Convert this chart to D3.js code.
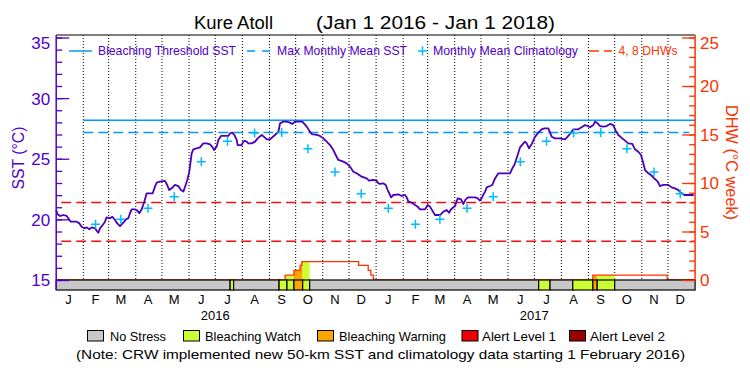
<!DOCTYPE html>
<html><head><meta charset="utf-8">
<script src="https://cdn.jsdelivr.net/npm/d3@7"></script>
<style>
body{margin:0;background:#fff}
text{font-family:"Liberation Sans",Arial,sans-serif}
</style>
</head><body>
<svg id="c" width="750" height="375"></svg>
<script>
// ---------------- data ----------------
const titleSite = "Kure Atoll";
const titlePeriod = "(Jan 1 2016 - Jan 1 2018)";
const startDate = Date.UTC(2016, 0, 1);
const endDate = Date.UTC(2018, 0, 1);
const monthLabels = ["J","F","M","A","M","J","J","A","S","O","N","D"];
const yearLabels = [2016, 2017];
const sstTicks = [15, 20, 25, 30, 35];
const dhwTicks = [0, 5, 10, 15, 20, 25];
const bleachingThreshold = 28.17;
const maxMonthlyMean = 27.17;
const dhwLevels = [4, 8];
// monthly mean climatology, Jan..Dec
const climValues = [20.91, 19.59, 20.01, 20.91, 21.87, 24.76, 26.44, 27.12, 27.17, 25.83, 23.91, 22.12];
// SST (days since 1 Jan 2016, degC)
const sstDays = [0,1.3,4.3,8.2,12,13.9,16.6,23.4,26.5,29.1,32.2,34.9,37.9,40.6,44.4,46.3,48.2,50.1,53.2,55.8,57.7,61.6,64.2,67.3,69.9,73,76,79.9,82.5,84.4,86.3,90.2,92.8,95.1,97.8,100.8,103.5,110.4,113,115,118.8,124.5,126.4,129.4,132.1,135.9,139.7,142.8,145.5,148.1,150,152.3,155,156.9,160.7,164.5,168.3,172.2,176,179,180.6,183.6,
185.5,188.6,196.9,198.9,201.5,203.8,206.5,207.6,212.2,214.1,216,217.9,219.8,223.7,227.5,230.5,235.1,238.9,240.8,244.6,247.3,250.3,254.2,256.1,259.9,263.7,267.5,270.2,273.2,281.6,283.9,286.6,290.4,292.3,298,301.8,305.7,309.5,313.3,317.1,319.8,322.8,328.5,332.4,336.2,340,343.8,349.5,355.2,357.9,362.9,366.7,368.6,370.5,
374.3,377,379.3,382,383.1,385.8,391.5,395.3,399.1,401,403,406.8,410.6,413.6,416.3,422,425.1,427.7,430.4,433.4,439.2,443,446.8,449.5,451.8,456.3,459.4,463.2,465.9,468.5,471.6,479.2,482.3,484.9,487.6,490.7,492.6,496.4,499,502.1,505.9,519.3,521.9,524.2,528,530.7,534.5,536.4,538.3,541,544.1,
547.8,
551.6,555.4,558.5,563.1,566.9,570.7,576.4,582.1,585.2,587.8,591.7,597.4,601.2,605,608.1,610.7,614.5,616.5,619.5,622.2,626,629.8,633.6,637.4,640.1,643.2,647.7,654.6,659.2,662.2,666,669.1,671.8,673.7,676.7,680.5,684.3,688.2,690.8,694.6,700.4,704.2,708,711.8,715.6,718.7,729.5];
const sstValues = [20.77,20.44,20.28,20.36,20.28,20.09,19.81,19.81,19.67,19.40,19.26,19.34,19.18,19.34,19.26,19.07,18.90,19.26,19.54,19.81,20.17,20.09,20.22,19.95,19.67,19.45,19.67,20.00,20.09,20.50,20.83,20.83,20.72,20.50,20.83,21.46,22.15,22.15,22.70,23.03,23.11,23.17,22.92,22.42,22.56,22.84,22.75,22.42,22.29,22.84,23.25,23.93,25.45,25.78,25.86,25.94,26.27,26.27,26.19,25.94,25.72,26.00,
26.55,26.88,26.88,27.10,27.15,26.96,26.55,26.13,26.13,26.41,26.49,26.41,26.27,26.27,26.41,26.68,26.96,26.74,26.60,26.60,26.77,26.96,27.23,27.92,28.06,28.06,27.98,27.87,28.06,28.06,27.87,27.65,27.23,27.04,26.96,26.88,26.68,26.41,26.13,25.72,25.31,24.90,24.76,24.62,24.35,23.93,23.80,23.52,23.38,23.19,23.25,23.19,22.97,22.92,
22.97,22.84,22.42,22.01,21.82,22.01,22.07,21.93,22.01,21.82,21.46,21.38,21.19,21.05,20.83,20.83,21.19,21.05,20.72,20.36,20.36,20.64,20.77,20.55,20.83,21.10,21.74,21.65,21.27,21.65,21.82,21.82,21.74,21.54,21.87,22.29,22.64,22.75,22.84,23.38,23.80,23.80,24.21,24.48,25.31,25.94,26.27,26.41,26.27,25.86,26.22,
26.80,
27.15,27.43,27.51,27.51,26.82,26.68,26.68,26.60,26.82,27.04,27.43,27.43,27.59,27.78,27.70,27.59,27.78,28.06,27.92,27.70,27.65,27.70,27.87,27.78,27.32,26.96,26.68,26.27,26.22,25.78,25.58,25.31,24.62,24.07,23.85,23.66,23.38,23.11,22.75,22.84,22.84,22.64,22.56,22.42,22.15,22.01,22.01];
// Degree heating weeks (step values, starting on given day)
const dhwDays   = [0, 262, 272, 279, 281, 346, 357, 360, 363, 614, 699, 731];
const dhwValues = [0, 0.5, 1.0, 1.5, 1.9, 1.5, 1.0, 0.5, 0,   0.5, 0,   0];
// Bleaching alert status segments (start day, level)
const statusStarts = [0, 199, 203, 255, 264, 272, 282, 290, 552, 565, 591, 614, 619, 639];
const statusLevels = [0, 1,   0,   1,   1,   2,   1,   0,   1,   0,   1,   2,   1,   0];
const statusEndDay = 731;
const statusNames = ["No Stress","Bleaching Watch","Bleaching Warning","Alert Level 1","Alert Level 2"];
const statusColors = ["#c8c8c8","#ccff33","#faa500","#ee0000","#990000"];
const noteText = "(Note: CRW implemented new 50-km SST and climatology data starting 1 February 2016)";

// ---------------- drawing ----------------
const purple = "#5000c8", lineCol = "#4a00b8", orange = "#ff3300", blue = "#0099ff", cyan = "#00bbff", red = "#ee1111";
const svg = d3.select("#c");
const dayToDate = d => new Date(startDate + d * 864e5);
const x = d3.scaleUtc().domain([startDate, endDate]).range([56.2, 695.1]);
const y = d3.scaleLinear().domain([15, 35]).range([280, 37.5]);
const yR = d3.scaleLinear().domain([0, 25]).range([280, 37.5]);
const L = x.range()[0], R = x.range()[1], T = 35, B = 280;

// month dotted lines
const monthStarts = d3.utcMonth.range(Date.UTC(2016,1,1), endDate);
svg.append("g").selectAll("line").data(monthStarts).join("line")
  .attr("x1", d => x(d)).attr("x2", d => x(d)).attr("y1", T).attr("y2", B)
  .attr("stroke", "#000").attr("stroke-width", 1).attr("stroke-dasharray", "1,2");

// threshold lines
const feb1 = Date.UTC(2016,1,1);
svg.append("line").attr("x1", x(feb1)).attr("x2", R).attr("y1", y(bleachingThreshold)).attr("y2", y(bleachingThreshold))
  .attr("stroke", blue).attr("stroke-width", 1.5);
svg.append("line").attr("x1", x(feb1)).attr("x2", R - 6).attr("y1", y(maxMonthlyMean)).attr("y2", y(maxMonthlyMean))
  .attr("stroke", blue).attr("stroke-width", 1.5).attr("stroke-dasharray", "10,5");
// DHW 4, 8 lines
svg.append("g").selectAll("line").data(dhwLevels).join("line")
  .attr("x1", L + 5).attr("x2", R).attr("y1", d => yR(d)).attr("y2", d => yR(d))
  .attr("stroke", red).attr("stroke-width", 1.5).attr("stroke-dasharray", "10,5");

// DHW fill by status
const dhwPts = dhwDays.map((d, i) => ({ d, v: dhwValues[i] }));
const segs = statusStarts.map((s, i) => ({ s, e: i < statusStarts.length - 1 ? statusStarts[i+1] : statusEndDay, lvl: statusLevels[i] }));
const area = d3.area().x(p => x(dayToDate(p.d))).y0(B).y1(p => yR(p.v)).curve(d3.curveStepAfter);
const defs = svg.append("defs");
segs.filter(s => s.lvl > 0).forEach((s, i) => {
  const id = "clip" + i;
  defs.append("clipPath").attr("id", id).append("rect")
    .attr("x", x(dayToDate(s.s))).attr("width", x(dayToDate(s.e)) - x(dayToDate(s.s))).attr("y", T).attr("height", B - T);
  svg.append("path").attr("d", area(dhwPts)).attr("fill", statusColors[s.lvl]).attr("clip-path", `url(#${id})`);
});
// DHW line
svg.append("path").attr("d", d3.line().x(p => x(dayToDate(p.d))).y(p => yR(p.v)).curve(d3.curveStepAfter)(dhwPts))
  .attr("fill", "none").attr("stroke", orange).attr("stroke-width", 1.3);

// SST line
const sstPts = sstDays.map((d, i) => ({ d, v: sstValues[i] }));
svg.append("path").attr("d", d3.line().x(p => x(dayToDate(p.d))).y(p => y(p.v))(sstPts))
  .attr("fill", "none").attr("stroke", lineCol).attr("stroke-width", 1.8).attr("stroke-linejoin", "round");

// climatology crosses
const climPts = d3.utcMonth.range(feb1, endDate).map(m => ({ t: Date.UTC(m.getUTCFullYear(), m.getUTCMonth(), 15), v: climValues[m.getUTCMonth()] }));
svg.append("g").selectAll("path").data(climPts).join("path")
  .attr("transform", p => `translate(${x(p.t)},${y(p.v)})`)
  .attr("d", "M-4.5,0H4.5M0,-4.5V4.5").attr("stroke", cyan).attr("stroke-width", 1.5).attr("fill", "none");

// status bar
svg.append("g").selectAll("rect").data(segs).join("rect")
  .attr("x", s => x(dayToDate(s.s))).attr("width", s => x(dayToDate(s.e)) - x(dayToDate(s.s)))
  .attr("y", B).attr("height", 10).attr("fill", s => statusColors[s.lvl])
  .attr("stroke", "#000").attr("stroke-width", 1.2);

// top border
svg.append("line").attr("x1", L).attr("x2", R).attr("y1", T).attr("y2", T).attr("stroke", "#000").attr("stroke-width", 1.2);

// left axis
const gl = svg.append("g").attr("transform", `translate(${L},0)`);
gl.call(d3.axisLeft(y).tickValues(d3.range(15, 36)).tickSize(-6).tickFormat(""));
gl.call(g => g.selectAll(".domain").remove());
const glm = svg.append("g").attr("transform", `translate(${L},0)`)
  .call(d3.axisLeft(y).tickValues(sstTicks).tickSize(-13).tickPadding(6));
glm.select(".domain").remove();
[gl, glm].forEach(g => { g.selectAll("line").attr("stroke", purple).attr("stroke-width", 1.3); });
glm.selectAll("text").attr("fill", purple).attr("font-size", 17).attr("font-family", "Liberation Sans, Arial, sans-serif")
  .attr("dy", d => d === 35 ? "0.62em" : "0.35em");
svg.append("line").attr("x1", L).attr("x2", L).attr("y1", T).attr("y2", 290).attr("stroke", purple).attr("stroke-width", 1.5);

// right axis
const gr = svg.append("g").attr("transform", `translate(${R},0)`);
gr.call(d3.axisRight(yR).tickValues(d3.range(0, 26)).tickSize(-6).tickFormat(""));
gr.select(".domain").remove();
const grm = svg.append("g").attr("transform", `translate(${R},0)`)
  .call(d3.axisRight(yR).tickValues(dhwTicks).tickSize(-13).tickPadding(5));
grm.select(".domain").remove();
[gr, grm].forEach(g => { g.selectAll("line").attr("stroke", orange).attr("stroke-width", 1.3); });
grm.selectAll("text").attr("fill", orange).attr("font-size", 17).attr("font-family", "Liberation Sans, Arial, sans-serif")
  .attr("dy", d => d === 25 ? "0.62em" : "0.35em");
svg.append("line").attr("x1", R).attr("x2", R).attr("y1", T).attr("y2", B).attr("stroke", orange).attr("stroke-width", 1.5);

// axis titles
svg.append("text").attr("transform", "translate(24,158) rotate(-90)").attr("text-anchor", "middle")
  .attr("fill", purple).attr("font-size", 16).attr("textLength", 63).attr("lengthAdjust", "spacingAndGlyphs").text("SST (°C)");
svg.append("text").attr("transform", "translate(726,162.5) rotate(90)").attr("text-anchor", "middle")
  .attr("fill", orange).attr("font-size", 16).attr("textLength", 115).attr("lengthAdjust", "spacingAndGlyphs").text("DHW (°C week)");

// month + year labels
const months = d3.utcMonth.range(startDate, endDate);
svg.append("g").selectAll("text").data(months).join("text")
  .attr("x", m => x(Date.UTC(m.getUTCFullYear(), m.getUTCMonth(), 15))).attr("y", 304)
  .attr("text-anchor", "middle").attr("font-size", 13).attr("fill", "#000")
  .text(m => monthLabels[m.getUTCMonth()]);
svg.append("g").selectAll("text").data(yearLabels).join("text")
  .attr("x", yr => x(Date.UTC(yr, 6, 1))).attr("y", 319.5)
  .attr("text-anchor", "middle").attr("font-size", 13).attr("fill", "#000").text(yr => yr);

// title
svg.append("text").attr("x", 194).attr("y", 29.3).attr("font-size", 17.5).attr("fill", "#000")
  .attr("textLength", 79).attr("lengthAdjust", "spacingAndGlyphs").text(titleSite);
svg.append("text").attr("x", 316).attr("y", 29.3).attr("font-size", 17.5).attr("fill", "#000")
  .attr("textLength", 239).attr("lengthAdjust", "spacingAndGlyphs").text(titlePeriod);

// top legend
const ly = 51, lty = 55;
svg.append("line").attr("x1", 69).attr("x2", 92).attr("y1", ly).attr("y2", ly).attr("stroke", blue).attr("stroke-width", 1.5);
svg.append("text").attr("x", 98).attr("y", lty).attr("font-size", 13).attr("fill", purple)
  .attr("textLength", 138).attr("lengthAdjust", "spacingAndGlyphs").text("Bleaching Threshold SST");
svg.append("line").attr("x1", 247).attr("x2", 270).attr("y1", ly).attr("y2", ly).attr("stroke", blue).attr("stroke-width", 1.5).attr("stroke-dasharray", "8,7");
svg.append("text").attr("x", 277).attr("y", lty).attr("font-size", 13).attr("fill", purple)
  .attr("textLength", 130).attr("lengthAdjust", "spacingAndGlyphs").text("Max Monthly Mean SST");
svg.append("path").attr("transform", `translate(422.5,${ly})`).attr("d", "M-4.5,0H4.5M0,-4.5V4.5").attr("stroke", cyan).attr("stroke-width", 1.5);
svg.append("text").attr("x", 433).attr("y", lty).attr("font-size", 13).attr("fill", purple)
  .attr("textLength", 145).attr("lengthAdjust", "spacingAndGlyphs").text("Monthly Mean Climatology");
svg.append("line").attr("x1", 589).attr("x2", 612).attr("y1", ly).attr("y2", ly).attr("stroke", orange).attr("stroke-width", 1.5).attr("stroke-dasharray", "10,5");
svg.append("text").attr("x", 618.5).attr("y", lty).attr("font-size", 13).attr("fill", orange)
  .attr("textLength", 59).attr("lengthAdjust", "spacingAndGlyphs").text("4, 8 DHWs");

// bottom legend
const boxX = [87.5, 183.5, 317.5, 462, 569.5];
const textX = [110, 205, 339, 482, 590];
const textW = [56, 96, 107, 74, 75];
const lg = svg.append("g");
statusNames.forEach((n, i) => {
  lg.append("rect").attr("x", boxX[i]).attr("y", 330.5).attr("width", 16).attr("height", 10.5)
    .attr("fill", statusColors[i]).attr("stroke", "#000").attr("stroke-width", 1);
  lg.append("text").attr("x", textX[i]).attr("y", 340.5).attr("font-size", 13).attr("fill", "#000")
    .attr("textLength", textW[i]).attr("lengthAdjust", "spacingAndGlyphs").text(n);
});
svg.append("text").attr("x", 76).attr("y", 359).attr("font-size", 13.5).attr("fill", "#000")
  .attr("textLength", 609).attr("lengthAdjust", "spacingAndGlyphs").text(noteText);
</script>
</body></html>
